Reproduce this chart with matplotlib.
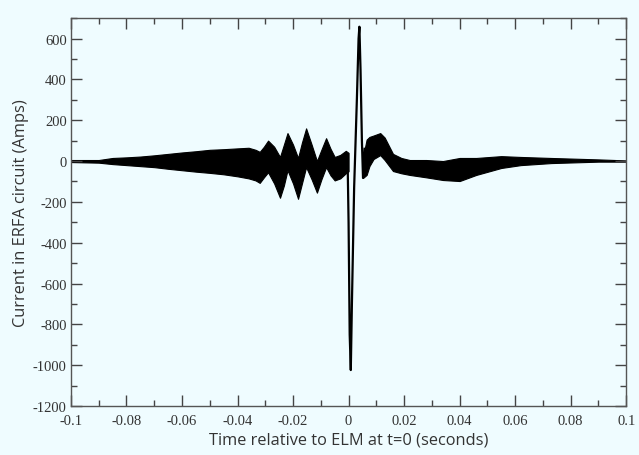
import matplotlib
matplotlib.use("Agg")
import matplotlib.pyplot as plt
from matplotlib.ticker import MultipleLocator
import numpy as np

plt.rcParams["axes.unicode_minus"] = False

# band of overlapping traces before the ELM: time (s), upper and lower envelope (A)
band_t = [-0.1, -0.09, -0.085, -0.08, -0.075, -0.07, -0.065, -0.06, -0.055,
          -0.05, -0.045, -0.04, -0.036, -0.0335, -0.032, -0.0305, -0.029,
          -0.0268, -0.0247, -0.0233, -0.022, -0.02, -0.0182, -0.0168,
          -0.0153, -0.0133, -0.0114, -0.0098, -0.0081, -0.0065, -0.005,
          -0.003, -0.001, 0.0]
band_hi = [5, 5, 15, 18, 22, 28, 35, 42, 48,
           55, 58, 62, 65, 55, 45, 70, 100,
           70, 20, 80, 137, 80, 15, 90,
           160, 80, 0, 55, 112, 60, 20,
           30, 50, 40]
band_lo = [-5, -8, -15, -20, -25, -30, -38, -45, -52,
           -58, -65, -75, -85, -95, -107, -80, -55,
           -110, -180, -120, -45, -110, -185, -110,
           -30, -90, -155, -90, -30, -70, -95,
           -85, -60, -50]

# band after the ELM
post_t = [0.0052, 0.0065, 0.0075, 0.009, 0.0114, 0.013, 0.016, 0.019, 0.022,
          0.028, 0.034, 0.040, 0.046, 0.055, 0.062, 0.073, 0.09, 0.1]
post_hi = [20, 105, 118, 125, 137, 115, 35, 15, 5,
           5, 0, 15, 15, 24, 20, 15, 8, 3]
post_lo = [-83, -68, -25, 10, 29, 5, -49, -60, -68,
           -80, -93, -98, -68, -34, -20, -10, -3, -3]

# the ELM spike itself
spike_t = [-0.0003, 0.0, 0.0004, 0.0008, 0.0012, 0.002, 0.003, 0.0036,
           0.0039, 0.0043, 0.0048, 0.0052, 0.0058]
spike_v = [-40, -300, -850, -1024, -700, -132, 307, 600,
           658, 450, 100, -83, 60]

bg = "#effcff"
fig = plt.figure(figsize=(6.39, 4.56), dpi=100, facecolor=bg)
ax = fig.add_axes([0.111, 0.1075, 0.869, 0.8505], facecolor=bg)

ax.fill_between(band_t, band_lo, band_hi, color="black", lw=0.8)
ax.fill_between(post_t, post_lo, post_hi, color="black", lw=0.8)
ax.plot(spike_t, spike_v, color="black", lw=1.6)

ax.set_xlim(-0.1, 0.1)
ax.set_ylim(-1200, 700)
ax.xaxis.set_minor_locator(MultipleLocator(0.01))
ax.yaxis.set_minor_locator(MultipleLocator(100))
ax.set_yticks(np.arange(-1200, 601, 200))

xt = [-0.1, -0.08, -0.06, -0.04, -0.02, 0, 0.02, 0.04, 0.06, 0.08, 0.1]
ax.set_xticks(xt)
ax.set_xticklabels(["-0.1", "-0.08", "-0.06", "-0.04", "-0.02", "0",
                    "0.02", "0.04", "0.06", "0.08", "0.1"])

for s in ax.spines.values():
    s.set_color("#555555")
    s.set_linewidth(1.0)
ax.tick_params(which="both", direction="in", top=True, right=True,
               color="#444444", labelcolor="#333333")
ax.tick_params(which="major", length=8, width=1.0, labelsize=10.5)
ax.tick_params(which="minor", length=4, width=1.0)
ax.tick_params(axis="x", pad=6)
ax.tick_params(axis="y", pad=3)
for lab in ax.get_xticklabels() + ax.get_yticklabels():
    lab.set_family("Liberation Serif")

ax.set_xlabel("Time relative to ELM at t=0 (seconds)", family="Open Sans",
              fontsize=11.8, color="#333333", labelpad=3)
ax.set_ylabel("Current in ERFA circuit (Amps)", family="Open Sans",
              fontsize=11.8, color="#333333", labelpad=3)

fig.savefig("out.png", dpi=100, facecolor=bg)
